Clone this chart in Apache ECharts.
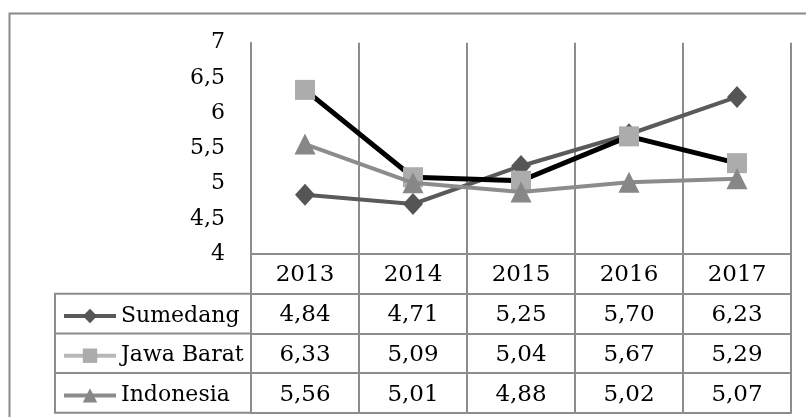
<!DOCTYPE html>
<html>
<head>
<meta charset="utf-8">
<script src="https://cdn.jsdelivr.net/npm/echarts@6/dist/echarts.min.js"></script>
<style>
  html, body { margin: 0; padding: 0; background: #fff; }
  #chart { width: 806px; height: 417px; }
</style>
</head>
<body>
<div id="chart"></div>
<script>
const years = ['2013', '2014', '2015', '2016', '2017'];
const sumedang = [4.84, 4.71, 5.25, 5.70, 6.23];
const jawaBarat = [6.33, 5.09, 5.04, 5.67, 5.29];
const indonesia = [5.56, 5.01, 4.88, 5.02, 5.07];
const seriesNames = ['Sumedang', 'Jawa Barat', 'Indonesia'];
const yTicks = { min: 4, max: 7, interval: 0.5 };

const FONT = 'DejaVu Serif';
const GRID_COLOR = '#8c8c8c';
const ROW_H = 39.7;
const fmt = v => v.toFixed(2).replace('.', ',');

const chart = echarts.init(document.getElementById('chart'));

function tableAxis(values, offset) {
  return {
    type: 'category', data: years, gridIndex: 0, position: 'bottom', offset: offset,
    boundaryGap: true,
    axisLine: { show: true, lineStyle: { color: GRID_COLOR, width: 2 } },
    axisTick: { show: values !== null, length: ROW_H, lineStyle: { color: GRID_COLOR, width: 2 } },
    axisLabel: values === null ? { show: false } : {
      show: true, margin: 10, fontSize: 23, fontFamily: FONT, color: '#000',
      formatter: (v, i) => fmt(values[i])
    },
    splitLine: { show: false }
  };
}

const option = {
  animation: false,
  backgroundColor: '#fff',
  grid: { left: 251, right: 15, top: 42.7, bottom: 163, containLabel: false },
  xAxis: [
    {
      type: 'category', data: years, boundaryGap: true, position: 'bottom',
      axisLine: { show: true, lineStyle: { color: GRID_COLOR, width: 2 } },
      axisTick: { show: true, length: ROW_H, lineStyle: { color: GRID_COLOR, width: 2 } },
      axisLabel: { margin: 10, fontSize: 23, fontFamily: FONT, color: '#000' },
      splitLine: { show: true, lineStyle: { color: GRID_COLOR, width: 2 } }
    },
    tableAxis(sumedang, ROW_H),
    tableAxis(jawaBarat, ROW_H * 2),
    tableAxis(indonesia, ROW_H * 3),
    tableAxis(null, ROW_H * 4)
  ],
  yAxis: {
    type: 'value', min: yTicks.min, max: yTicks.max, interval: yTicks.interval,
    axisLine: { show: true, lineStyle: { color: GRID_COLOR, width: 2 } },
    axisTick: { show: false },
    splitLine: { show: false },
    axisLabel: {
      margin: 26, fontSize: 22, fontFamily: FONT, color: '#000', padding: [4, 0, 0, 0],
      formatter: v => String(v).replace('.', ',')
    }
  },
  legend: {
    orient: 'vertical', left: 57, top: 299, itemWidth: 52, itemHeight: 18, itemGap: 15.7,
    textStyle: { fontSize: 22, fontFamily: FONT, color: '#000', lineHeight: 24 },
    data: [
      { name: seriesNames[0], lineStyle: { color: '#5a5a5a', width: 4 }, itemStyle: { color: '#555555' } },
      { name: seriesNames[1], lineStyle: { color: '#b8b8b8', width: 4 }, itemStyle: { color: '#acacac' } },
      { name: seriesNames[2], lineStyle: { color: '#8c8c8c', width: 4 }, itemStyle: { color: '#878787' } }
    ]
  },
  graphic: [
    { type: 'rect', shape: { x: 9.5, y: 13.5, width: 900, height: 500 }, style: { fill: 'none', stroke: '#8a8a8a', lineWidth: 2 }, silent: true },
    { type: 'rect', shape: { x: 55, y: 254 + ROW_H, width: 196, height: ROW_H * 3 }, style: { fill: 'none', stroke: GRID_COLOR, lineWidth: 2 }, silent: true },
    { type: 'line', shape: { x1: 55, y1: 254 + ROW_H * 2, x2: 251, y2: 254 + ROW_H * 2 }, style: { stroke: GRID_COLOR, lineWidth: 2 }, silent: true },
    { type: 'line', shape: { x1: 55, y1: 254 + ROW_H * 3, x2: 251, y2: 254 + ROW_H * 3 }, style: { stroke: GRID_COLOR, lineWidth: 2 }, silent: true }
  ],
  series: [
    {
      name: seriesNames[0], type: 'line', data: sumedang, symbol: 'diamond', symbolSize: [20, 22],
      lineStyle: { color: '#5a5a5a', width: 4 }, itemStyle: { color: '#555555' }, z: 2
    },
    {
      name: seriesNames[1], type: 'line', data: jawaBarat, symbol: 'rect', symbolSize: 20,
      lineStyle: { color: '#000000', width: 5 }, itemStyle: { color: '#acacac' }, z: 3
    },
    {
      name: seriesNames[2], type: 'line', data: indonesia, symbol: 'triangle', symbolSize: 21,
      lineStyle: { color: '#8c8c8c', width: 4 }, itemStyle: { color: '#878787' }, z: 4
    }
  ]
};
chart.setOption(option);
</script>
</body>
</html>
